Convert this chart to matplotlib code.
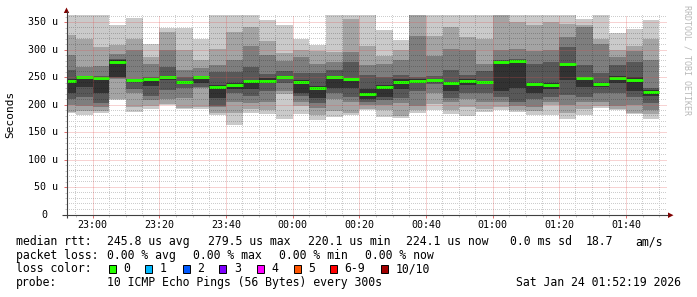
import matplotlib
matplotlib.use("Agg")
import matplotlib.pyplot as plt
import matplotlib.dates as mdates
from matplotlib.patches import Rectangle, Polygon
from matplotlib.ticker import MultipleLocator
import numpy as np
import pandas as pd

# ---------------- data ----------------
start_time = pd.Timestamp("2026-01-23 22:52:19")
end_time = pd.Timestamp("2026-01-24 01:52:19")
# end of each 5-minute RRD step (first one is partial)
bar_ends = pd.date_range("2026-01-23 22:55", "2026-01-24 01:50", freq="5min")

# 10 sorted ping RTTs per step (microseconds)
pings = [
    [186, 187, 200, 210, 222, 247, 263, 290, 326, 370],
    [181, 188, 198, 214, 232, 250, 253, 269, 319, 370],
    [186, 188, 196, 204, 222, 250, 252, 270, 305, 370],
    [208, 210, 246, 248, 250, 281, 284, 292, 308, 345],
    [187, 196, 222, 228, 243, 246, 247, 300, 319, 357],
    [192, 198, 209, 216, 234, 249, 251, 275, 286, 310],
    [199, 201, 210, 227, 245, 252, 268, 299, 332, 339],
    [192, 195, 212, 230, 238, 244, 251, 263, 299, 339],
    [193, 196, 230, 232, 240, 251, 253, 266, 282, 319],
    [181, 185, 196, 198, 212, 236, 260, 273, 302, 366],
    [163, 185, 205, 222, 229, 239, 260, 282, 333, 366],
    [186, 192, 203, 216, 228, 245, 269, 306, 342, 366],
    [183, 190, 205, 226, 240, 248, 256, 290, 316, 354],
    [175, 220, 225, 240, 247, 253, 262, 280, 295, 345],
    [184, 197, 206, 216, 221, 245, 257, 287, 300, 320],
    [172, 181, 195, 204, 212, 234, 257, 274, 298, 309],
    [178, 188, 210, 222, 230, 252, 263, 278, 296, 366],
    [182, 185, 205, 215, 230, 248, 278, 296, 355, 366],
    [190, 193, 200, 205, 210, 228, 254, 272, 306, 366],
    [178, 190, 200, 208, 214, 236, 250, 275, 288, 335],
    [177, 180, 204, 212, 228, 246, 254, 281, 299, 318],
    [185, 190, 198, 225, 240, 246, 251, 325, 366, 370],
    [190, 201, 222, 238, 243, 246, 252, 289, 325, 368],
    [184, 190, 205, 212, 226, 240, 263, 302, 342, 366],
    [180, 196, 210, 222, 236, 247, 254, 300, 323, 366],
    [187, 193, 205, 222, 238, 243, 262, 275, 320, 366],
    [190, 196, 205, 214, 226, 278, 281, 299, 368, 370],
    [187, 190, 198, 206, 230, 282, 284, 302, 351, 366],
    [181, 188, 196, 210, 222, 240, 275, 298, 345, 366],
    [181, 200, 205, 215, 228, 240, 278, 299, 350, 366],
    [175, 186, 200, 218, 245, 276, 305, 323, 346, 368],
    [182, 192, 205, 214, 232, 249, 272, 342, 345, 355],
    [195, 197, 205, 222, 233, 240, 258, 310, 320, 366],
    [190, 193, 198, 221, 239, 252, 272, 287, 299, 331],
    [183, 186, 200, 214, 226, 250, 278, 297, 306, 337],
    [175, 183, 190, 203, 216, 227, 230, 282, 319, 354],
]
median_rtt = [243, 251, 249, 278, 245, 247, 251, 242, 250, 233, 236, 243,
              243, 251, 241, 231, 250, 246, 220, 233, 242, 244, 245, 239,
              243, 241, 277, 280, 238, 236, 274, 248, 237, 249, 245, 224]

y_ticks = [0, 50, 100, 150, 200, 250, 300, 350]
y_tick_labels = ["0", "50 u", "100 u", "150 u", "200 u", "250 u", "300 u", "350 u"]

loss_labels = ["0", "1", "2", "3", "4", "5", "6-9", "10/10"]
loss_colors = ["#26ff00", "#00b8ff", "#0059ff", "#7e00ff", "#ff00ff",
               "#ff5500", "#ff0000", "#a10000"]

legend_rows = [
    [("median rtt:", 16), ("245.8 us avg", 107.3), ("279.5 us max", 208.2),
     ("220.1 us min", 308), ("224.1 us now", 406), ("0.0 ms sd", 510),
     ("18.7", 586), ("am/s", 635)],
    [("packet loss:", 16), ("0.00 % avg", 107), ("0.00 % max", 193),
     ("0.00 % min", 279.3), ("0.00 % now", 365.3)],
]
probe_text = "10 ICMP Echo Pings (56 Bytes) every 300s"
stamp_text = "Sat Jan 24 01:52:19 2026"

smoke_colors = ["#cacaca", "#a4a4a4", "#7e7e7e", "#585858", "#323232"]

# ---------------- figure ----------------
W, H = 697, 297
fig = plt.figure(figsize=(W / 100, H / 100), dpi=100)
fig.patch.set_facecolor("white")
MONO = "DejaVu Sans Mono"

ax_l, ax_r, ax_b, ax_t = 67, 667, 215, 14.5
ax = fig.add_axes([ax_l / W, 1 - ax_b / H, (ax_r - ax_l) / W, (ax_b - ax_t) / H])
ax.set_facecolor("white")

starts = [start_time] + list(bar_ends[:-1])
x0 = mdates.date2num(pd.DatetimeIndex(starts).to_pydatetime())
x1 = mdates.date2num(bar_ends.to_pydatetime())
P = np.array(pings, dtype=float)

for ii in range(5):
    lo = P[:, ii]
    hi = P[:, 9 - ii]
    ax.bar(x0, hi - lo, bottom=lo, width=x1 - x0, align="edge",
           color=smoke_colors[ii], linewidth=0, antialiased=False, zorder=1)

ax.hlines(median_rtt, x0, x1, color="#26ff00", lw=2.1, zorder=2)

ax.set_xlim(mdates.date2num(start_time.to_pydatetime()),
            mdates.date2num(end_time.to_pydatetime()))
ax.set_ylim(0, 364)
ax.xaxis.set_major_locator(mdates.MinuteLocator(byminute=[0, 20, 40]))
ax.xaxis.set_minor_locator(mdates.MinuteLocator(byminute=range(0, 60, 5)))
ax.yaxis.set_major_locator(MultipleLocator(50))
ax.yaxis.set_minor_locator(MultipleLocator(10))

ax.tick_params(which="both", labelleft=False, labelbottom=False, direction="out")
ax.tick_params(which="minor", length=1.5, width=0.72, color="#c8c8c8")
ax.tick_params(which="major", length=2.2, width=0.72, color="#e07070")
for s in ax.spines.values():
    s.set_visible(False)

# ---------------- minor dotted grid, pixel-exact, on top of the smoke ----------------
grid_img = np.zeros((H, W, 4), dtype=np.uint8)
minor_rgba = np.array([0, 0, 0, 50], dtype=np.uint8)
row_top, row_bot = int(np.ceil(ax_t)), int(ax_b) - 1
col_l, col_r = ax_l, ax_r

for t in ax.xaxis.get_minorticklocs():
    c = int(np.floor(ax.transData.transform((t, 0))[0]))
    if col_l < c < col_r:
        grid_img[row_top:row_bot + 1:2, c] = minor_rgba
for v in ax.yaxis.get_minorticklocs():
    if 0 < v < 364:
        r = H - 1 - int(np.floor(ax.transData.transform((x0[0], v))[1]))
        grid_img[r, col_l:col_r:2] = minor_rgba

gi = fig.figimage(grid_img, xo=0, yo=0, origin="upper", zorder=3)
gi.set_interpolation("nearest")

# ---------------- major (red) dotted grid ----------------
major_col = (0.88, 0.30, 0.30, 0.5)
for t in ax.xaxis.get_majorticklocs():
    ax.axvline(t, color=major_col, lw=0.72, linestyle=(0, (1, 1)), zorder=2.6)
for v in ax.yaxis.get_majorticklocs():
    if 0 < v < 364:
        ax.axhline(v, color=major_col, lw=0.72, linestyle=(0, (1, 1)), zorder=2.6)

# tick labels
for t in ax.xaxis.get_majorticklocs():
    ax.text(t, (ax_b - 224.5) / (ax_b - ax_t), mdates.num2date(t).strftime("%H:%M"),
            transform=ax.get_xaxis_transform(), ha="center", va="center",
            family=MONO, fontsize=7.2, color="black")
for v, lab in zip(y_ticks, y_tick_labels):
    xr = 58.5 if v != 0 else 47
    ax.text((xr - ax_l) / (ax_r - ax_l), v, lab, transform=ax.get_yaxis_transform(),
            ha="right", va="center", family=MONO, fontsize=7.2, color="black")

# ---------------- overlay in pixel coords ----------------
ov = fig.add_axes([0, 0, 1, 1], zorder=5)
ov.set_xlim(0, W)
ov.set_ylim(H, 0)
ov.axis("off")
ov.patch.set_visible(False)

# axis lines and arrows
ov.plot([66.5, 66.5], [218, 11], color="#404040", lw=0.8, solid_capstyle="butt")
ov.plot([62, 668], [215.2, 215.2], color="#404040", lw=0.8, solid_capstyle="butt")
ov.add_patch(Polygon([[63.8, 13], [69.2, 13], [66.5, 7.5]], closed=True,
                     color="#800000", lw=0))
ov.add_patch(Polygon([[668, 212.5], [668, 218], [673.5, 215.2]], closed=True,
                     color="#800000", lw=0))

# y axis title
ov.text(10.5, 114, "Seconds", rotation=90, ha="center", va="center",
        family=MONO, fontsize=8, color="black")

# watermark
ov.text(686.5, 5, "RRDTOOL / TOBI OETIKER", rotation=-90, ha="center", va="top",
        family=MONO, fontsize=6, color="#b8b8b8")

# legend text
row_y = [241.7, 255.3, 269.0, 282.7]
for r, row in enumerate(legend_rows):
    for txt, x in row:
        ov.text(x, row_y[r], txt, ha="left", va="center", family=MONO,
                fontsize=8.3, color="black")

ov.text(16, row_y[2], "loss color:", ha="left", va="center", family=MONO,
        fontsize=8.3, color="black")
sq_x = [108.7, 145.3, 182.7, 219.3, 257, 293.7, 330, 381]
for lab, col, sx in zip(loss_labels, loss_colors, sq_x):
    ov.add_patch(Rectangle((sx, row_y[2] - 3.8), 7, 7.6, facecolor=col,
                           edgecolor="black", lw=0.7))
    ov.text(sx + 14.5, row_y[2], lab, ha="left", va="center", family=MONO,
            fontsize=8.3, color="black")

ov.text(16, row_y[3], "probe:", ha="left", va="center", family=MONO,
        fontsize=8.3, color="black")
ov.text(107, row_y[3], probe_text, ha="left", va="center", family=MONO,
        fontsize=8.3, color="black")
ov.text(680.5, row_y[3], stamp_text, ha="right", va="center", family=MONO,
        fontsize=8.3, color="black")

fig.savefig("out.png", dpi=100, facecolor="white")
